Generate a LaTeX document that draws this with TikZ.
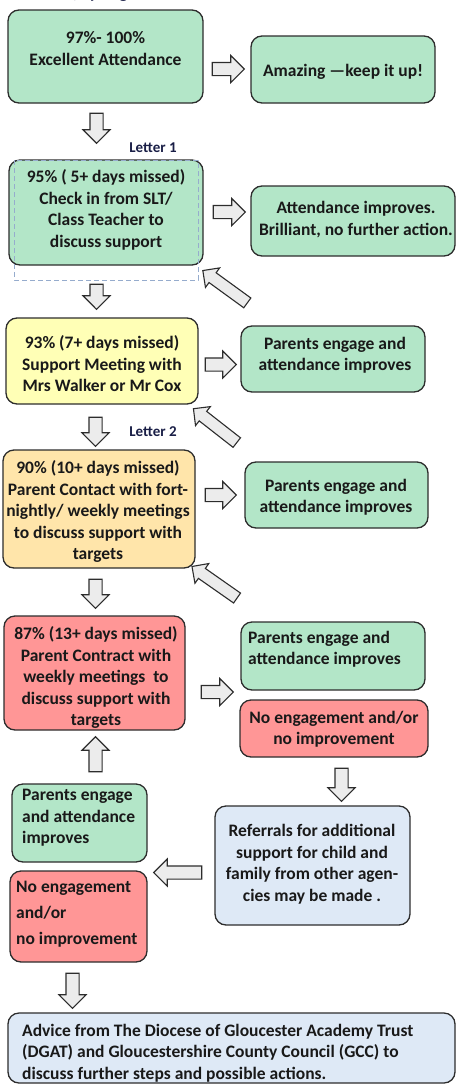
\documentclass[tikz,border=0pt]{standalone}
\usepackage{fontspec}
\setmainfont{Carlito}
\usetikzlibrary{shapes.arrows}
\definecolor{grn}{RGB}{179,230,200}
\definecolor{ylw}{RGB}{255,255,182}
\definecolor{org}{RGB}{255,229,170}
\definecolor{rd}{RGB}{255,150,150}
\definecolor{blu}{RGB}{222,233,246}
\definecolor{arr}{RGB}{236,236,236}
\definecolor{edge}{RGB}{45,45,45}
\definecolor{navy}{RGB}{25,30,70}
\definecolor{dashc}{RGB}{150,172,205}
\tikzset{
  box/.style={draw=edge, line width=1.3pt, rounded corners=11pt, inner sep=0pt},
  txt/.style={font=\fontsize{17.5pt}{21.5pt}\selectfont\bfseries, text=black!90, inner sep=0pt, align=center},
  ltxt/.style={txt, align=left},
  barrow/.style={single arrow, draw=edge, line width=1.1pt, fill=arr, inner sep=6pt,
     single arrow head extend=7pt, single arrow tip angle=90, minimum height=#1},
  lbl/.style={font=\fontsize{15pt}{18pt}\selectfont\bfseries, text=navy, inner sep=0pt}
}
\newcommand{\boxat}[6]{% name, x1, y1, x2, y2, fill
  \node[box, fill=#6, minimum width=#4pt-#2pt, minimum height=#5pt-#3pt] (#1) at ({(#2+#4)/2},{(#3+#5)/2}) {};}
\begin{document}
\begin{tikzpicture}[x=1pt,y=-1pt]
\useasboundingbox (0,0) rectangle (456,1084);
\clip (0,0) rectangle (456,1084);
\node[lbl, font=\fontsize{17.5pt}{20pt}\selectfont\bfseries, anchor=south west] (title) at (14,1.5) {Autumn, Spring Term 2023 - 24};

% boxes
\boxat{b1}{8}{10}{203}{103}{grn}
\boxat{r1}{251}{36}{435}{103}{grn}
\boxat{b2}{9}{160}{203}{265}{grn}
\draw[dashc, line width=0.9pt, dash pattern=on 5pt off 3pt] (14,160) rectangle (198,280);
\boxat{r2}{251}{186}{455}{256}{grn}
\boxat{b3}{6}{318}{198}{404}{ylw}
\boxat{r3}{241}{326}{425}{392}{grn}
\boxat{b4}{3}{450}{195}{568}{org}
\boxat{r4}{245}{462}{428}{528}{grn}
\boxat{b5}{4}{616}{185}{730}{rd}
\boxat{r5a}{241}{622}{425}{690}{grn}
\boxat{r5b}{240}{700}{428}{757}{rd}
\boxat{gl}{12}{784}{147}{862}{grn}
\boxat{rl}{10}{871}{147}{962}{rd}
\boxat{rf}{215}{806}{410}{925}{blu}
\boxat{bt}{8}{1013}{455}{1083}{blu}

% texts
\node[txt] (t1) at (105.5,48.5) {97\%- 100\%\\Excellent Attendance};
\node[txt] (tr1) at (343,72) {Amazing —keep it up!};
\node[lbl] (l1) at (153,148) {Letter 1};
\node[txt] (t2) at (106,210) {95\% ( 5+ days missed)\\Check in from SLT/\\Class Teacher to\\discuss support};
\node[txt] (tr2) at (356,219.5) {Attendance improves.\\Brilliant, no further action.};
\node[txt] (t3) at (102,364) {93\% (7+ days missed)\\Support Meeting with\\Mrs Walker or Mr Cox};
\node[txt] (tr3) at (335,355) {Parents engage and\\attendance improves};
\node[lbl] (l2) at (153,432) {Letter 2};
\node[txt] (t4) at (98,511.5) {90\% (10+ days missed)\\Parent Contact with fort-\\nightly/ weekly meetings\\to discuss support with\\targets};
\node[txt] (tr4) at (336,497) {Parents engage and\\attendance improves};
\node[txt] (t5) at (96,677.5) {87\% (13+ days missed)\\Parent Contract with\\weekly meetings~ to\\discuss support with\\targets};
\node[ltxt, anchor=west] (tr5a) at (248,649) {Parents engage and\\attendance improves};
\node[txt] (tr5b) at (334,729) {No engagement and/or\\no improvement};
\node[ltxt, anchor=west] (tgl) at (22,818) {Parents engage\\and attendance\\improves};
\node[ltxt, anchor=west, font=\fontsize{17.5pt}{26pt}\selectfont\bfseries] (trl) at (16,914) {No engagement\\and/or\\no improvement};
\node[txt] (trf) at (312,864) {Referrals for additional\\support for child and\\family from other agen-\\cies may be made .};
\node[ltxt, anchor=west] (tbt) at (22,1053) {Advice from The Diocese of Gloucester Academy Trust\\(DGAT) and Gloucestershire County Council (GCC) to\\discuss further steps and possible actions.};

% block arrows
\node[barrow=32pt] (a1) at (225,69) {};
\node[barrow=30pt, rotate=-90] (a2) at (96.5,125) {};
\node[barrow=32pt] (a3) at (226,212) {};
\node[barrow=25pt, rotate=-90] (a4) at (96.5,293.5) {};
\node[barrow=55pt, rotate=144, inner sep=5.5pt, single arrow head extend=6pt] (d1) at (227.5,288.5) {};
\node[barrow=31pt] (a5) at (217.5,364.5) {};
\node[barrow=29pt, rotate=-90] (a6) at (95.5,428.5) {};
\node[barrow=55pt, rotate=142, inner sep=5.5pt, single arrow head extend=6pt] (d2) at (217.5,427.5) {};
\node[barrow=31pt] (a7) at (217.5,495) {};
\node[barrow=29pt, rotate=-90] (a8) at (95.5,590.5) {};
\node[barrow=55pt, rotate=145, inner sep=5.5pt, single arrow head extend=6pt] (d3) at (217,584) {};
\node[barrow=32pt] (a9) at (214,692) {};
\node[barrow=33pt, rotate=-90] (a10) at (341.5,781.5) {};
\node[barrow=35pt, rotate=90] (a11) at (95.5,757.5) {};
\node[barrow=48pt, rotate=180] (a12) at (181,872.5) {};
\node[barrow=35pt, rotate=-90] (a13) at (72.5,987.5) {};
\end{tikzpicture}
\end{document}
